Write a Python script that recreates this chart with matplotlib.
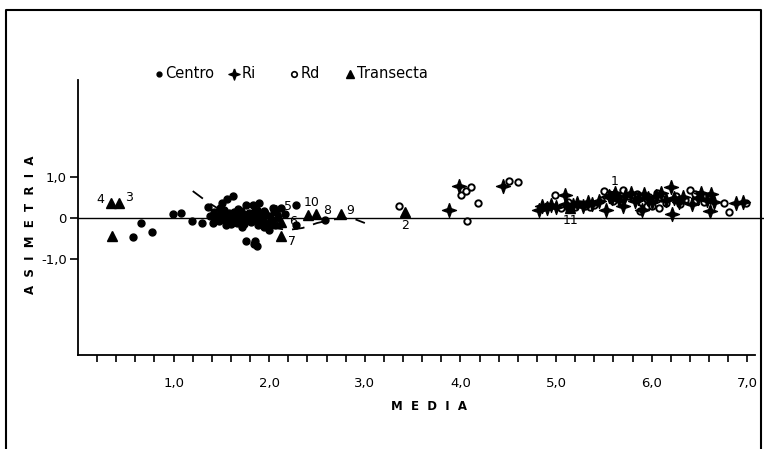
import matplotlib
matplotlib.use("Agg")
import matplotlib.pyplot as plt
from matplotlib.lines import Line2D
import numpy as np

# ---------------- data ----------------
centro_x = [0.57, 0.66, 0.77, 0.99, 1.08, 1.19, 1.30, 1.36, 1.41, 1.51, 1.56, 1.62, 1.76, 1.83, 1.89,
            1.76, 1.85, 1.87, 1.84, 2.04, 2.28, 2.28, 2.58,
            1.38, 1.42, 1.45, 1.47, 1.50, 1.52, 1.53, 1.55, 1.57, 1.58, 1.60, 1.62, 1.63, 1.65, 1.66,
            1.68, 1.70, 1.71, 1.73, 1.74, 1.76, 1.78, 1.79, 1.81, 1.82, 1.84, 1.86, 1.88, 1.90, 1.91,
            1.93, 1.95, 1.96, 1.98, 2.00, 2.01, 2.03, 2.05, 2.06, 2.09, 2.12, 1.48, 1.67, 1.87, 1.60,
            2.16, 1.72, 1.55, 1.99, 1.43, 1.94]
centro_y = [-0.47, -0.12, -0.33, 0.10, 0.13, -0.07, -0.12, 0.28, -0.12, 0.36, 0.46, 0.54, 0.33, 0.33, 0.37,
            -0.55, -0.55, -0.68, -0.62, 0.24, 0.33, -0.17, -0.05,
            0.05, 0.15, 0.02, -0.08, 0.10, -0.02, 0.20, 0.05, -0.10, 0.12, 0.00, -0.05, 0.15, 0.08, -0.12,
            0.02, 0.18, -0.03, 0.10, -0.15, 0.05, -0.05, 0.12, -0.10, 0.02, 0.15, -0.02, -0.18, 0.08, -0.08,
            0.00, -0.22, 0.12, -0.12, -0.30, 0.05, -0.05, 0.20, -0.18, 0.00, 0.25, 0.25, 0.22, 0.20, -0.15,
            0.10, -0.22, -0.18, -0.20, -0.05, 0.18]

ri_x = [3.88, 3.98, 4.44, 4.82, 4.85, 4.90, 4.95, 5.00, 5.09, 5.10, 5.18, 5.22, 5.28, 5.33, 5.38, 5.45,
        5.52, 5.55, 5.58, 5.62, 5.66, 5.72, 5.78, 5.82, 5.86, 5.92, 5.96, 6.00, 6.04, 6.10, 6.15, 6.20,
        6.21, 6.23, 6.28, 6.33, 6.42, 6.48, 6.52, 6.58, 6.62, 6.61, 6.65, 6.88, 6.95, 5.90, 5.70]
ri_y = [0.20, 0.78, 0.78, 0.20, 0.30, 0.25, 0.32, 0.28, 0.56, 0.35, 0.32, 0.38, 0.30, 0.40, 0.35, 0.42,
        0.20, 0.55, 0.50, 0.62, 0.45, 0.55, 0.62, 0.42, 0.50, 0.58, 0.48, 0.40, 0.55, 0.62, 0.45, 0.76,
        0.11, 0.50, 0.40, 0.52, 0.35, 0.48, 0.62, 0.45, 0.60, 0.18, 0.40, 0.38, 0.40, 0.20, 0.30]

rd_x = [3.36, 4.01, 4.06, 4.11, 4.18, 4.07, 4.51, 4.60, 4.99, 6.76, 6.81, 6.99,
        5.05, 5.12, 5.20, 5.25, 5.30, 5.35, 5.40, 5.47, 5.50, 5.55, 5.60, 5.70, 5.75, 5.80, 5.85,
        5.90, 5.95, 5.98, 6.02, 6.05, 6.08, 6.10, 6.15, 6.25, 6.30, 6.40, 6.45, 6.50, 6.55, 6.60,
        6.35, 5.65, 5.15, 4.90, 5.88, 6.00]
rd_y = [0.29, 0.56, 0.66, 0.76, 0.36, -0.07, 0.90, 0.87, 0.56, 0.38, 0.15, 0.36,
        0.25, 0.40, 0.28, 0.35, 0.30, 0.28, 0.32, 0.45, 0.66, 0.60, 0.42, 0.68, 0.55, 0.48, 0.58,
        0.36, 0.30, 0.38, 0.45, 0.62, 0.25, 0.50, 0.38, 0.55, 0.35, 0.68, 0.60, 0.52, 0.40, 0.55,
        0.45, 0.50, 0.28, 0.30, 0.18, 0.30]

trans_x = [0.35, 0.43, 0.36, 2.07, 2.12, 2.12, 2.41, 2.49, 2.75, 3.42, 5.15, 5.61]
trans_y = [0.36, 0.36, -0.44, 0.21, -0.09, -0.44, 0.07, 0.09, 0.09, 0.15, 0.24, 0.60]
trans_labels = ['4', '3', '', '5', '6', '7', '10', '8', '9', '2', '11', '1']

curve_x = [1.20, 1.35, 1.50, 1.70, 1.90, 2.05, 2.20, 2.35, 2.50, 2.65, 2.80, 2.90, 3.00]
curve_y = [0.66, 0.40, 0.18, 0.02, -0.12, -0.24, -0.29, -0.24, -0.12, -0.04, 0.00, -0.03, -0.12]

xtick_vals = [1, 2, 3, 4, 5, 6, 7]
xtick_labels = ['1,0', '2,0', '3,0', '4,0', '5,0', '6,0', '7,0']
ytick_vals = [1, 0, -1]
ytick_labels = ['1,0', '0', '-1,0']

# ---------------- figure ----------------
W, H = 764, 449
fig = plt.figure(figsize=(W / 100, H / 100), dpi=100)
ax = fig.add_axes([78 / W, 1 - 355 / H, (755 - 78) / W, (355 - 80) / H])

star = [(0, 1), (0.26, 0.26), (1, 0), (0.26, -0.26), (0, -1), (-0.26, -0.26), (-1, 0), (-0.26, 0.26), (0, 1)]

ax.plot([0, 7.22], [0, 0], color='black', lw=1.0, clip_on=False, zorder=1)
ax.plot(curve_x, curve_y, color='black', lw=1.3, dashes=(7, 5), zorder=2)
ax.plot(centro_x, centro_y, 'o', ms=5, color='black', mec='black', zorder=3)
ax.plot(rd_x, rd_y, 'o', ms=4.6, mfc='white', mec='black', mew=1.4, zorder=3)
ax.plot(ri_x, ri_y, marker=star, ls='none', ms=10, color='black', zorder=4)
ax.plot(trans_x, trans_y, '^', ms=7, color='black', zorder=5)

offsets = {'4': (-8, 3), '3': (7, 4), '5': (9, 2), '6': (9, 0), '7': (8, -4), '10': (2, 9),
           '8': (8, 3), '9': (7, 3), '2': (0, -10), '11': (0, -9), '1': (0, 9)}
for x, y, lab in zip(trans_x, trans_y, trans_labels):
    if lab:
        dx, dy = offsets[lab]
        ax.annotate(lab, (x, y), xytext=(dx, dy), textcoords='offset points',
                    ha='center', va='center', fontsize=9)

ax.set_xlim(0, 7.08)
ax.set_ylim(-3.34, 3.37)
ax.set_xticks(xtick_vals)
ax.set_xticklabels(xtick_labels)
ax.set_xticks(np.arange(0.2, 7.01, 0.2), minor=True)
ax.tick_params(axis='x', which='both', direction='out', length=5, width=1.2)
ax.tick_params(axis='x', which='major', pad=11, labelsize=9.5)
ax.set_yticks(ytick_vals)
ax.set_yticklabels(ytick_labels)
ax.tick_params(axis='y', direction='out', length=6, width=1.2, pad=2, labelsize=9.5)

for s in ['top', 'right']:
    ax.spines[s].set_visible(False)
for s in ['left', 'bottom']:
    ax.spines[s].set_linewidth(1.3)

fig.text(429 / W, 1 - 407 / H, 'M  E  D  I  A', ha='center', va='center', fontsize=8.5, fontweight='bold')
fig.text(31 / W, 1 - 225 / H, 'A  S  I  M  E  T  R  I  A', ha='center', va='center', rotation=90,
         fontsize=8.5, fontweight='bold')

# legend (figure coords)
ly = 1 - 74 / H
fig.add_artist(Line2D([159 / W], [ly], marker='o', ms=3.5, color='black', ls='none'))
fig.text(165 / W, ly, 'Centro', va='center', ha='left', fontsize=10.5)
fig.add_artist(Line2D([234 / W], [ly], marker=star, ms=8, color='black', ls='none'))
fig.text(242 / W, ly, 'Ri', va='center', ha='left', fontsize=10.5)
fig.add_artist(Line2D([294 / W], [ly], marker='o', ms=4, mfc='white', mec='black', mew=1.2, ls='none'))
fig.text(301 / W, ly, 'Rd', va='center', ha='left', fontsize=10.5)
fig.add_artist(Line2D([350 / W], [ly], marker='^', ms=6, color='black', ls='none'))
fig.text(357 / W, ly, 'Transecta', va='center', ha='left', fontsize=10.5)

# outer frame
fx0, fx1, fy1 = 6 / W, 761 / W, 1 - 10 / H
fig.add_artist(Line2D([fx0, fx0, fx1, fx1], [0, fy1, fy1, 0], color='black', lw=1.5))

fig.savefig('out.png', dpi=100)
